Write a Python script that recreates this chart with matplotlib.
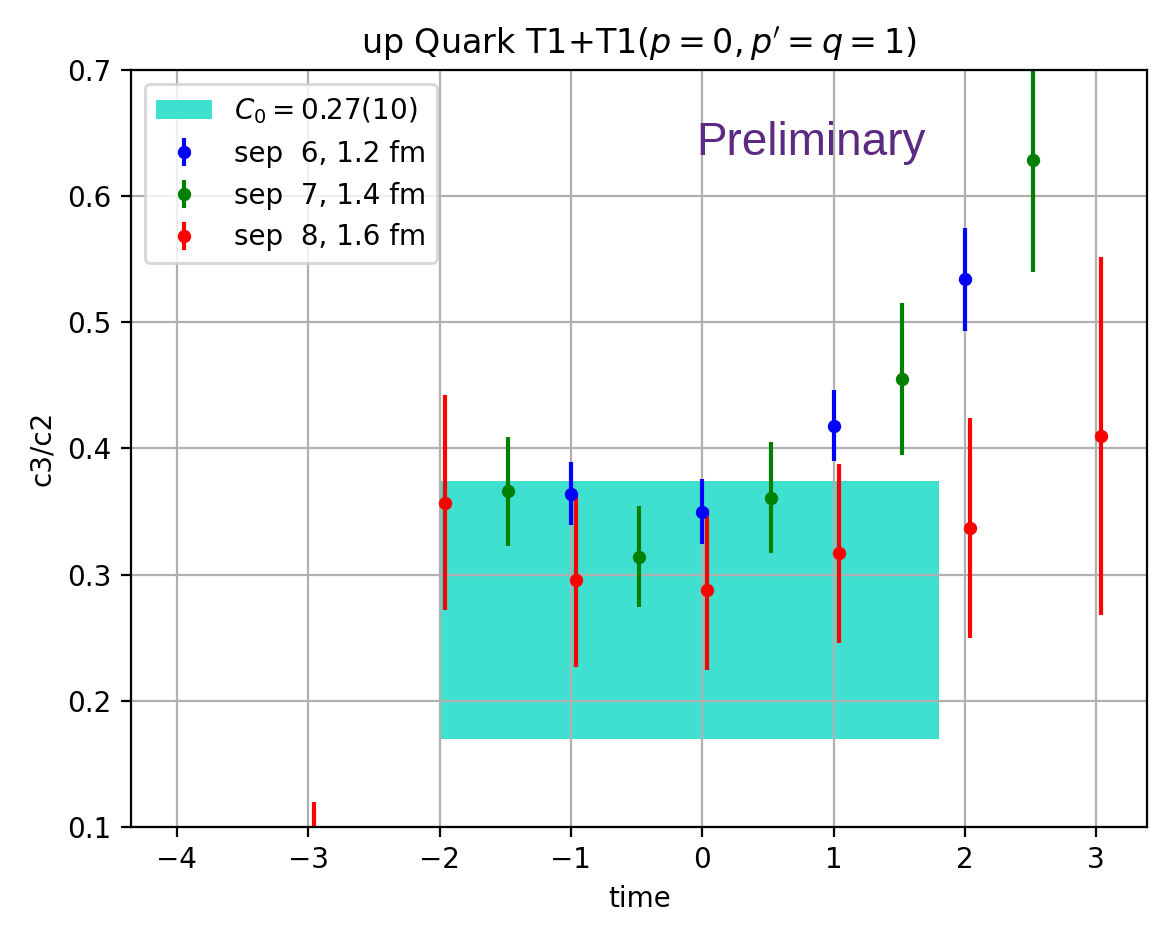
import matplotlib.pyplot as plt
import numpy as np

# sep 6
t6 = np.array([-1.0, 0.0, 1.0, 2.0])
y6 = np.array([0.364, 0.350, 0.418, 0.534])
e6 = np.array([0.025, 0.026, 0.028, 0.041])

# sep 7
t7 = np.array([-1.48, -0.48, 0.52, 1.52, 2.52])
y7 = np.array([0.366, 0.314, 0.361, 0.455, 0.629])
e7 = np.array([0.043, 0.040, 0.044, 0.060, 0.089])

# sep 8
t8 = np.array([-2.96, -1.96, -0.96, 0.04, 1.04, 2.04, 3.04])
y8 = np.array([0.020, 0.357, 0.296, 0.288, 0.317, 0.337, 0.410])
e8 = np.array([0.100, 0.085, 0.069, 0.064, 0.071, 0.087, 0.142])

# fit band
c0, dc0 = 0.272, 0.102
band_t = [-2.0, 1.8]

fig = plt.figure(figsize=(1159 / 200, 927 / 200), dpi=200)
ax = fig.add_axes([0.113, 0.108, 0.877, 0.8165])

ax.fill_between(band_t, c0 - dc0, c0 + dc0, color='turquoise', linewidth=0,
                label=r'$C_0 = 0.27(10)$')
ax.errorbar(t6, y6, yerr=e6, fmt='o', color='b', ms=3.8, elinewidth=1.5,
            label='sep  6, 1.2 fm')
ax.errorbar(t7, y7, yerr=e7, fmt='o', color='g', ms=3.8, elinewidth=1.5,
            label='sep  7, 1.4 fm')
ax.errorbar(t8, y8, yerr=e8, fmt='o', color='r', ms=3.8, elinewidth=1.5,
            label='sep  8, 1.6 fm')

ax.text(0.83, 0.633, 'Preliminary', color='#5b2a82', fontsize=16.5,
        family='Liberation Sans', ha='center', va='baseline')

ax.set_xlim(-4.35, 3.39)
ax.set_ylim(0.1, 0.7)
ax.set_xticks(np.arange(-4, 4))
ax.grid(True)
ax.set_xlabel('time')
ax.set_ylabel('c3/c2')
ax.set_title(r"up Quark T1+T1($p=0, p'=q=1$)")
ax.legend(loc='upper left')

fig.savefig('out.png', dpi=200)
